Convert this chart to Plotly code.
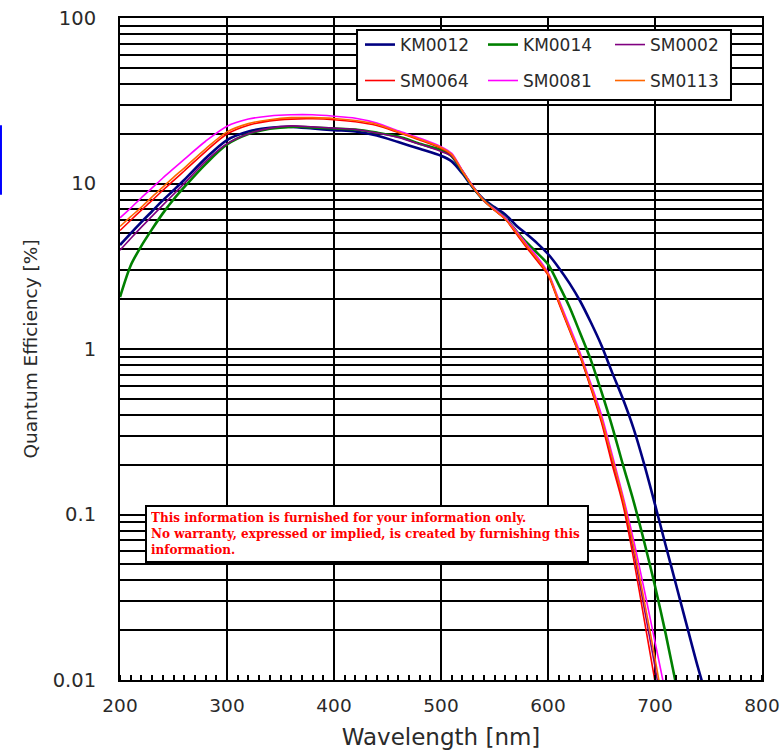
import plotly.graph_objects as go

WAVELENGTH = [200, 210, 220, 230, 240, 250, 260, 280, 300, 320, 340, 360, 380, 400,
              420, 440, 460, 480, 500, 510, 520, 530, 540, 550, 560, 570, 580, 590,
              600, 610, 620, 630, 640, 650, 660, 670, 680, 690, 700, 710, 720, 730,
              740, 750]

KM0012 = [4.25, 5.0, 5.85, 6.8, 7.9, 9.1, 10.5, 14.2, 18.3, 20.6, 21.7, 22.0, 21.5, 21.0,
          20.6, 19.5, 17.8, 16.2, 14.7, 13.6, 11.5, 9.4, 8.0, 7.2, 6.5, 5.6, 4.95, 4.35,
          3.75, 3.1, 2.5, 1.95, 1.45, 1.05, 0.72, 0.5, 0.33, 0.2, 0.115, 0.065, 0.037, 0.021,
          0.012, 0.0072]

KM0014 = [2.06, 3.2, 4.2, 5.3, 6.6, 8.0, 9.5, 13.1, 17.2, 19.9, 21.4, 22.0, 21.8, 21.5,
          21.2, 20.3, 19.2, 17.4, 15.9, 14.6, 11.8, 9.5, 7.9, 7.0, 6.2, 5.2, 4.4, 3.8,
          3.25, 2.45, 1.8, 1.25, 0.86, 0.55, 0.34, 0.2, 0.12, 0.068, 0.037, 0.019, 0.0092, 0.0045,
          None, None]

SM0002 = [3.95, 4.65, 5.45, 6.35, 7.4, 8.6, 10.0, 13.6, 17.4, 20.0, 21.6, 22.3, 22.0, 21.6,
          21.2, 20.2, 19.0, 17.3, 15.6, 14.6, 11.9, 9.5, 7.9, 6.9, 6.1, 5.1, 4.2, 3.45,
          2.85, 1.93, 1.32, 0.9, 0.59, 0.37, 0.21, 0.12, 0.06, 0.027, 0.012, 0.005, 0.002, None,
          None, None]

SM0064 = [5.2, 6.0, 6.9, 7.9, 9.1, 10.4, 11.9, 15.6, 19.9, 22.5, 23.9, 24.5, 24.6, 24.3,
          23.6, 22.4, 20.3, 18.3, 16.3, 14.9, 11.9, 9.5, 7.9, 6.9, 6.1, 5.0, 4.1, 3.4,
          2.8, 1.9, 1.3, 0.9, 0.58, 0.36, 0.2, 0.115, 0.054, 0.023, 0.0098, 0.004, 0.0016, None,
          None, None]

SM0081 = [6.2, 7.1, 8.2, 9.4, 10.8, 12.3, 14.0, 18.0, 22.2, 24.5, 25.6, 26.0, 26.0, 25.5,
          24.8, 23.2, 20.8, 18.8, 16.7, 15.2, 12.0, 9.6, 7.9, 7.0, 6.2, 5.2, 4.3, 3.6,
          2.9, 2.0, 1.38, 0.95, 0.62, 0.4, 0.23, 0.13, 0.07, 0.035, 0.017, 0.0082, 0.0038, None,
          None, None]

SM0113 = [5.5, 6.3, 7.2, 8.3, 9.5, 10.9, 12.4, 16.2, 20.5, 23.0, 24.3, 25.0, 25.0, 24.7,
          24.0, 22.8, 20.5, 18.5, 16.5, 15.0, 11.9, 9.5, 7.9, 6.9, 6.1, 5.1, 4.2, 3.5,
          2.85, 1.95, 1.33, 0.92, 0.6, 0.38, 0.22, 0.125, 0.064, 0.03, 0.0135, 0.0058, 0.0025, None,
          None, None]

SERIES = [
    ("KM0012", KM0012, "#000080", 2.6),
    ("KM0014", KM0014, "#008000", 2.6),
    ("SM0002", SM0002, "#800080", 1.6),
    ("SM0064", SM0064, "#FF0000", 1.6),
    ("SM0081", SM0081, "#FF00FF", 1.6),
    ("SM0113", SM0113, "#FF6600", 1.6),
]

X_TICKS = [200, 300, 400, 500, 600, 700, 800]
Y_TICKS = [0.01, 0.1, 1, 10, 100]
Y_TICK_TEXT = ["0.01", "0.1", "1", "10", "100"]

NOTE = ("This information is furnished for your information only.<br>"
        "No warranty, expressed or implied, is created by furnishing this<br>"
        "information.")

FONT = "DejaVu Sans, Verdana, sans-serif"

# legend layout: 3 columns x 2 rows, one small legend per entry
LEG_COL_X = [0.3738, 0.5654, 0.7632]
LEG_ROW_Y = [0.9592, 0.9049]

fig = go.Figure()
layout_legends = {}
for i, (name, vals, color, w) in enumerate(SERIES):
    key = "legend" if i == 0 else f"legend{i + 1}"
    fig.add_trace(go.Scatter(
        x=WAVELENGTH, y=vals, name=name, mode="lines",
        line=dict(color=color, width=w, shape="spline", smoothing=0.8),
        connectgaps=False, legend=key,
    ))
    layout_legends[key] = dict(
        x=LEG_COL_X[i % 3], y=LEG_ROW_Y[i // 3], xanchor="left", yanchor="middle",
        orientation="h", bgcolor="rgba(0,0,0,0)", borderwidth=0,
        font=dict(family=FONT, size=17, color="#2a2a2a"), itemwidth=30,
    )

fig.update_layout(
    width=780, height=751,
    margin=dict(l=120, r=18, t=18, b=71),
    paper_bgcolor="white", plot_bgcolor="white",
    font=dict(family=FONT, color="#2a2a2a", size=19),
    showlegend=True,
    xaxis=dict(
        range=[200, 800], tickvals=X_TICKS, ticktext=[str(v) for v in X_TICKS],
        showgrid=True, gridcolor="black", gridwidth=1.6,
        showline=True, linecolor="black", linewidth=2, mirror=True,
        ticks="", ticklabelstandoff=8, automargin=False, ticklabeloverflow="allow",
        tickfont=dict(family=FONT, size=18.5, color="#2a2a2a"),
        minor=dict(dtick=10, tick0=200, ticks="inside", ticklen=5, tickcolor="black",
                   tickwidth=1.5, showgrid=False),
        title=dict(text="Wavelength [nm]", font=dict(family=FONT, size=23, color="#2a2a2a"),
                   standoff=14),
        zeroline=False,
    ),
    yaxis=dict(
        type="log", range=[-2, 2], tickvals=Y_TICKS, ticktext=Y_TICK_TEXT,
        showgrid=True, gridcolor="black", gridwidth=1.6,
        showline=True, linecolor="black", linewidth=2, mirror=True,
        ticks="", ticklabelstandoff=18, automargin=False, ticklabeloverflow="allow",
        tickfont=dict(family=FONT, size=19.5, color="#2a2a2a"),
        minor=dict(dtick="D1", showgrid=True, gridcolor="black", gridwidth=1.6, ticks=""),
        title=dict(text="Quantum Efficiency [%]", font=dict(family=FONT, size=18.5, color="#2a2a2a"),
                   standoff=10),
        zeroline=False,
    ),
    annotations=[dict(
        xref="paper", yref="paper", x=0.0389, y=0.2644, xanchor="left", yanchor="top",
        text=NOTE, showarrow=False, align="left", width=432, height=46,
        font=dict(family="DejaVu Serif, Liberation Serif, serif", size=12, color="#FF0000",
                  weight="bold"),
        bgcolor="white", bordercolor="black", borderwidth=2, borderpad=4,
    )],
    shapes=[
        dict(type="rect", xref="paper", yref="paper", x0=0.3692, x1=0.9517,
             y0=0.8761, y1=0.9819, layer="above", fillcolor="white",
             line=dict(color="black", width=2)),
        dict(type="line", xref="paper", yref="paper", x0=-0.1854, x1=-0.1854,
             y0=0.838, y1=0.733, line=dict(color="#0000FF", width=2)),
    ],
    **layout_legends,
)

fig.write_html("out.html")
